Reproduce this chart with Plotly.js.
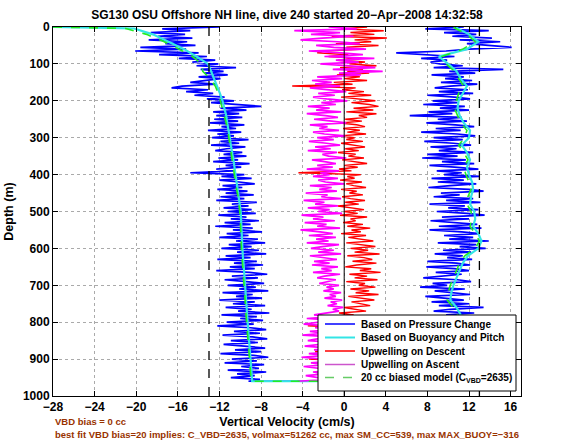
<!DOCTYPE html>
<html>
<head>
<meta charset="utf-8">
<script src="https://cdn.plot.ly/plotly-3.0.1.min.js"></script>
<style>html,body{margin:0;padding:0;background:#fff;}#chart{width:568px;height:442px;}</style>
</head>
<body>
<div id="chart"></div>
<script>
// ---------------- data ----------------
const depth = [0,5,10,15,20,25,30,35,40,45,50,55,60,65,70,75,80,85,90,95,
100,105,110,115,120,125,130,135,140,145,150,155,160,165,170,175,180,185,190,195,
200,205,210,215,220,225,230,235,240,245,250,255,260,265,270,275,280,285,290,295,
300,305,310,315,320,325,330,335,340,345,350,355,360,365,370,375,380,385,390,395,
400,405,410,415,420,425,430,435,440,445,450,455,460,465,470,475,480,485,490,495,
500,505,510,515,520,525,530,535,540,545,550,555,560,565,570,575,580,585,590,595,
600,605,610,615,620,625,630,635,640,645,650,655,660,665,670,675,680,685,690,695,
700,705,710,715,720,725,730,735,740,745,750,755,760,765,770,775,780,785,790,795,
800,805,810,815,820,825,830,835,840,845,850,855,860,865,870,875,880,885,890,895,
900,905,910,915,920,925,930,935,940,945,950,955,960];

const blueDown = [-12.0,-17.5,-14.8,-18.6,-15.3,-17.9,-14.6,-18.8,-15.1,-17.2,
-14.3,-19.6,-15.2,-20.1,-14.0,-17.8,-13.2,-15.9,-12.4,-14.6,
-12.1,-14.2,-10.4,-13.8,-11.6,-13.4,-11.2,-14.0,-11.9,-13.5,
-14.8,-12.3,-15.6,-16.6,-13.1,-15.2,-12.6,-14.4,-11.5,-13.2,
-10.6,-12.8,-9.9,-8.0,-11.9,-9.4,-12.6,-10.1,-12.3,-9.8,
-12.5,-10.2,-12.9,-9.6,-11.8,-10.4,-13.1,-9.9,-12.2,-10.6,
-12.7,-9.2,-11.9,-10.1,-12.8,-9.5,-11.3,-12.4,-9.8,-11.6,
-9.4,-12.1,-10.2,-12.6,-9.1,-11.4,-9.9,-12.3,-10.6,-14.8,
-9.6,-11.8,-8.9,-12.0,-10.1,-8.6,-11.7,-9.8,-12.2,-9.3,
-11.4,-8.7,-11.9,-9.6,-12.3,-8.4,-10.8,-9.2,-11.6,-8.9,
-11.2,-8.5,-12.1,-9.4,-10.9,-8.2,-11.5,-9.0,-12.4,-8.8,
-10.7,-7.9,-11.3,-9.2,-12.0,-8.3,-10.4,-7.6,-11.1,-8.9,
-11.8,-8.2,-10.3,-7.5,-11.4,-9.0,-12.2,-8.4,-10.6,-7.8,
-11.0,-8.6,-12.3,-9.1,-7.4,-10.8,-8.3,-11.5,-9.4,-7.7,
-11.2,-8.5,-10.1,-7.3,-11.7,-8.8,-10.4,-7.9,-12.0,-8.6,
-10.7,-7.6,-11.4,-8.9,-10.2,-7.2,-11.8,-8.4,-10.0,-7.8,
-11.3,-8.7,-12.2,-9.0,-7.5,-10.6,-8.1,-11.7,-8.8,-7.4,
-10.9,-8.3,-11.6,-9.2,-7.6,-10.5,-8.0,-11.9,-8.7,-7.3,
-10.8,-8.4,-11.5,-7.7,-9.9,-8.2,-11.2,-7.5,-10.3,-8.6,-10.9,-8.1,-9.2];

const blueUp = [11.5,7.8,13.9,9.6,12.7,10.4,14.2,11.1,15.0,11.8,
13.4,16.1,12.0,9.8,5.0,8.2,10.6,7.4,9.9,8.3,
9.2,11.4,8.6,15.3,10.1,12.6,8.4,11.5,9.7,12.3,
9.3,12.8,10.2,8.7,11.9,9.1,12.4,8.0,10.6,12.1,
8.5,10.9,7.6,11.6,9.2,12.0,8.1,10.4,6.3,11.3,
9.0,11.8,7.9,10.7,12.5,8.8,11.2,7.4,10.9,12.6,
8.6,11.4,7.7,10.5,12.2,8.3,10.8,9.1,12.4,8.0,
10.9,7.5,11.7,9.4,12.5,8.2,10.6,12.9,8.9,11.3,
9.6,13.0,8.4,11.5,9.0,12.7,10.2,8.1,12.0,13.4,
9.3,11.1,8.6,12.4,9.8,13.1,8.2,11.6,10.0,12.9,
8.9,11.8,13.5,9.4,12.0,8.3,10.7,12.8,9.1,13.2,
8.2,11.3,13.0,9.6,12.4,10.1,13.9,9.0,12.7,11.1,
13.6,9.5,12.2,8.7,11.4,9.9,12.3,8.0,10.8,12.1,
7.9,10.6,12.0,8.8,11.3,9.2,7.6,10.9,12.2,8.5,
9.9,7.3,11.6,8.7,10.4,12.1,7.8,9.6,11.5,8.4,
12.0,9.1,13.4,10.2,8.6,12.5,9.8,11.3,8.9,12.2,
9.5,11.8,8.7,12.6,10.1,9.0,12.3,10.5,8.4,11.9,
9.7,12.8,10.3,8.9,11.6,9.4,12.5,10.0,8.6,12.1,
9.9,11.4,8.8,12.7,10.2,9.3,12.0,10.6,8.5,11.7,10.1,12.4,11.0];

const upwellDescent = [2.2,-0.3,3.8,0.6,2.9,-1.2,4.1,1.0,2.6,-0.8,
3.3,0.2,1.9,-1.8,-2.6,0.4,-1.5,1.2,-0.6,2.0,
0.5,3.1,-0.4,1.8,0.3,2.4,-0.7,1.5,0.0,2.2,
-1.0,0.8,-5.0,1.1,-0.2,1.9,0.4,2.6,-0.3,1.3,
3.0,0.7,2.4,3.3,0.9,2.8,0.2,3.1,1.4,2.2,
0.1,1.7,-0.4,1.2,2.0,-0.1,1.5,0.3,2.1,-0.5,
1.0,0.2,1.8,-0.3,0.9,2.0,0.1,1.4,-0.6,1.1,
0.4,1.9,-0.2,0.8,2.2,0.0,1.3,-0.5,0.7,-4.4,
1.6,0.3,1.0,-0.4,1.7,0.2,0.9,2.1,-0.3,1.2,
0.5,1.8,-0.2,0.6,2.0,0.1,1.4,-0.6,0.8,1.9,
0.0,1.3,-0.4,2.2,0.6,1.1,-0.1,1.8,0.3,2.5,
0.7,1.6,-0.3,2.1,0.4,1.4,2.8,0.2,1.7,3.0,
0.6,2.3,1.0,3.4,0.3,1.9,2.7,0.8,3.1,1.2,
0.1,2.6,1.5,3.5,0.5,2.2,1.0,3.2,0.2,2.0,
1.4,3.0,0.6,2.4,1.1,3.3,0.4,1.8,2.9,0.7,
1.6,2.5,0.0,1.3,2.1,-0.5,0.9,-1.8,0.4,1.5,
-0.8,0.6,-3.5,1.0,-0.3,1.7,-1.2,0.5,-2.4,1.2,
-0.2,0.8,-1.5,1.4,-0.6,0.3,-2.8,1.1,-0.1,0.7,
-3.4,0.9,-0.7,1.3,-1.9,0.2,1.0,-1.1,0.5,-2.2,0.8,-0.4,1.2];

const upwellAscent = [-1.5,1.2,-4.8,-0.4,-3.2,0.9,-2.1,-4.2,-0.6,1.5,
-2.7,-1.0,2.1,-3.4,-0.3,1.8,-1.9,2.9,-0.8,1.4,
-2.3,0.6,3.0,-1.1,3.7,-0.5,1.6,-2.6,-0.2,-3.1,
-1.2,-2.8,-0.4,-3.3,-1.5,0.2,-2.5,-0.9,-3.0,-1.7,
0.3,-2.2,-0.8,-3.5,-1.4,-2.7,-0.3,-3.6,-1.8,-0.6,
-2.9,-1.2,0.2,-3.3,-1.6,-2.4,-0.5,-3.0,-1.9,0.1,
-2.6,-1.0,-3.4,-1.7,-0.4,-2.8,-1.3,-3.5,-0.7,-2.1,
-1.5,0.2,-3.1,-1.9,-0.8,-2.6,-1.1,-3.6,-0.5,-2.3,
-1.4,-3.0,-0.6,-2.5,-1.8,0.0,-3.3,-1.2,-2.4,-0.7,
-3.7,-1.6,-2.2,-0.3,-3.9,-1.9,-2.8,-0.6,-3.5,-1.4,
-2.5,-0.2,-4.1,-2.0,-3.0,-0.9,-3.8,-1.7,-2.6,-0.4,
-4.2,-2.3,-1.1,-3.4,-0.8,-2.7,-1.5,-3.6,-0.5,-2.1,
-3.2,-1.0,-2.5,-0.3,-3.3,-1.8,-0.7,-2.9,-1.4,-3.1,
-0.6,-2.2,-1.2,-3.0,-0.4,-1.9,-2.6,-0.8,-1.6,-2.4,
-0.5,-1.7,-1.0,-2.0,-0.3,-1.4,-0.8,-1.9,-0.2,-1.3,
-0.7,-1.6,-0.1,-1.1,-0.5,-1.8,-2.9,-1.2,-3.6,-0.9,
-2.4,-3.9,-1.5,-2.8,-0.7,-3.3,-1.9,-4.0,-1.1,-2.6,
-3.5,-0.8,-2.2,-3.8,-1.4,-2.9,-0.6,-3.4,-1.7,-4.1,
-2.0,-0.9,-3.2,-1.6,-3.9,-2.4,-1.0,-3.0,-1.8,-3.7,-2.5,-1.3,-4.5];

const depthModel = [0,4,20,40,60,80,100,120,140,160,180,200,220,240,260,280,300,320,340,360,380,
400,420,440,460,480,500,520,540,560,580,600,620,640,660,680,700,720,740,760,780,
800,820,840,860,880,900,920,940,960];

const buoyDown = [-28,-20.2,-18.4,-16.9,-15.4,-14.2,-13.1,-12.8,-12.5,-12.2,-11.95,-11.7,-11.5,-11.35,-11.25,-11.1,-11.0,-10.9,-10.75,-10.65,-10.55,
-10.45,-10.35,-10.25,-10.1,-10.0,-9.95,-9.92,-9.9,-9.88,-9.85,-9.82,-9.75,-9.68,-9.62,-9.56,-9.5,-9.46,-9.42,-9.38,-9.34,
-9.3,-9.24,-9.18,-9.12,-9.06,-9.0,-8.95,-8.9,-8.85];

const buoyUp = [10.8,10.9,12.0,12.9,11.8,9.1,10.0,10.8,11.2,11.8,11.4,11.0,10.9,11.1,11.5,12.1,12.0,11.3,11.8,12.1,11.8,
12.0,12.3,12.4,12.2,12.1,12.5,12.6,12.4,12.9,13.2,12.9,11.9,11.4,11.1,10.8,10.5,10.3,10.2,10.8,11.2,
11.3,11.4,11.5,11.6,11.7,11.8,11.9,12.0,12.0];

const modelDown = [-28,-21.0,-19.0,-17.3,-15.9,-14.6,-13.7,-13.6,-12.9,-12.4,-12.1,-11.9,-11.7,-11.5,-11.35,-11.2,-11.1,-11.0,-10.85,-10.75,-10.65,
-10.55,-10.45,-10.35,-10.2,-10.1,-10.05,-10.0,-9.98,-9.95,-9.92,-9.9,-9.85,-9.78,-9.72,-9.66,-9.6,-9.56,-9.52,-9.48,-9.44,
-9.4,-9.34,-9.28,-9.22,-9.16,-9.1,-9.05,-9.0,-8.95];

const modelUp = [10.5,10.7,11.8,12.6,11.4,9.4,9.8,10.6,11.0,11.5,11.0,10.8,10.6,10.9,11.2,11.8,11.6,11.0,11.5,11.9,11.5,
11.7,12.0,12.2,11.9,11.8,12.2,12.3,12.1,12.6,13.0,12.6,11.6,11.1,10.8,10.5,10.2,10.0,9.9,10.5,10.9,
11.0,11.1,11.2,11.3,11.4,11.5,11.6,11.7,11.7];

const xTicks = [-28,-24,-20,-16,-12,-8,-4,0,4,8,12,16];
const yTicks = [0,100,200,300,400,500,600,700,800,900,1000];
const legendLabels = ['Based on Pressure Change','Based on Buoyancy and Pitch','Upwelling on Descent','Upwelling on Ascent','20 cc biased model (C<sub>VBD</sub>=2635)'];
const titleText = 'SG130 OSU Offshore NH line, dive 240 started 20\u2212Apr\u22122008 14:32:58';
const noteLines = ['VBD bias = 0 cc','best fit VBD bias=20 implies: C_VBD=2635, volmax=51262 cc, max SM_CC=539, max MAX_BUOY=\u2212316'];

// ---------------- layout helpers ----------------
const L = 53, R = 521, T = 27, B = 396;
const px = v => (v - L) / (R - L);
const py = v => 1 - (v - T) / (B - T);
const rev = a => a.slice().reverse();

const colors = {blue:'#0000FF', cyan:'#33E5E5', red:'#FF0000', mag:'#FF00FF', green:'#22EE22'};
const FONT = 'Liberation Sans, Arial, Helvetica, sans-serif';

const traces = [
  {x: blueDown.concat(rev(blueUp)), y: depth.concat(rev(depth)), mode:'lines', line:{color:colors.blue, width:1.7}, name:legendLabels[0]},
  {x: buoyDown.concat(rev(buoyUp)), y: depthModel.concat(rev(depthModel)), mode:'lines', line:{color:colors.cyan, width:2.2}, name:legendLabels[1]},
  {x: upwellDescent, y: depth, mode:'lines', line:{color:colors.red, width:1.4}, name:legendLabels[2]},
  {x: rev(upwellAscent), y: rev(depth), mode:'lines', line:{color:colors.mag, width:1.7}, name:legendLabels[3]},
  {x: modelDown.concat(rev(modelUp)), y: depthModel.concat(rev(depthModel)), mode:'lines', line:{color:colors.green, width:1.6, dash:'dash'}, name:legendLabels[4]}
];

const shapes = [
  {type:'line', xref:'x', yref:'y', x0:0, x1:0, y0:0, y1:1000, line:{color:'#000', width:1}, layer:'above'},
  {type:'line', xref:'x', yref:'y', x0:-13, x1:-13, y0:0, y1:1000, line:{color:'#000', width:1.3, dash:'dash'}, layer:'above'},
  {type:'line', xref:'x', yref:'y', x0:13, x1:13, y0:0, y1:1000, line:{color:'#000', width:1.3, dash:'dash'}, layer:'above'},
  {type:'rect', xref:'paper', yref:'paper', x0:px(318), x1:px(516), y0:py(391), y1:py(315), line:{color:'#000', width:1}, fillcolor:'#fff', layer:'above'}
];
const annotations = [];
const legRows = [324, 337.5, 351, 364.5, 377.5];
const legColors = [colors.blue, colors.cyan, colors.red, '#CC55CC', '#66CC66'];
legRows.forEach((yy, i) => {
  shapes.push({type:'line', xref:'paper', yref:'paper', x0:px(325), x1:px(355), y0:py(yy), y1:py(yy),
    line:{color:legColors[i], width: i===1 ? 2 : 1.5, dash: i===4 ? 'dash' : 'solid'}, layer:'above'});
  annotations.push({xref:'paper', yref:'paper', x:px(359), y:py(yy), xanchor:'left', yanchor:'middle',
    text:legendLabels[i], showarrow:false, font:{family:FONT, size:10, color:'#000', weight:'bold'}});
});
annotations.push({xref:'paper', yref:'paper', x:0, y:py(421.5), xanchor:'left', yanchor:'middle', text:noteLines[0], showarrow:false,
  font:{family:FONT, size:9.5, color:'#993300', weight:'bold'}});
annotations.push({xref:'paper', yref:'paper', x:0, y:py(434.5), xanchor:'left', yanchor:'middle', text:noteLines[1], showarrow:false,
  font:{family:FONT, size:9.5, color:'#993300', weight:'bold'}});

const axisCommon = {showline:true, linecolor:'#000', linewidth:1, mirror:'ticks', ticks:'inside', ticklen:5, tickcolor:'#000',
  showgrid:true, gridcolor:'#aaa', griddash:'dot', gridwidth:1, zeroline:false,
  tickfont:{family:FONT, size:12, color:'#000', weight:'bold'}};

const layout = {
  width:568, height:442, paper_bgcolor:'#fff', plot_bgcolor:'#fff',
  margin:{l:L, r:568-R, t:T, b:442-B},
  showlegend:false,
  title:{text:titleText, x:0.5, xref:'paper', y:1-15/442, yanchor:'middle', font:{family:FONT, size:12, color:'#000', weight:'bold'}},
  xaxis:Object.assign({}, axisCommon, {range:[-28,17], tickvals:xTicks, ticktext:xTicks.map(v => v<0 ? '\u2212'+Math.abs(v) : String(v)),
    title:{text:'Vertical Velocity (cm/s)', standoff:3, font:{family:FONT, size:12.5, color:'#000', weight:'bold'}}}),
  yaxis:Object.assign({}, axisCommon, {range:[1000,0], tickvals:yTicks, ticktext:yTicks.map(String),
    title:{text:'Depth (m)', standoff:6, font:{family:FONT, size:12.5, color:'#000', weight:'bold'}}}),
  shapes:shapes, annotations:annotations
};

Plotly.newPlot('chart', traces, layout, {staticPlot:true, displayModeBar:false});
</script>
</body>
</html>
